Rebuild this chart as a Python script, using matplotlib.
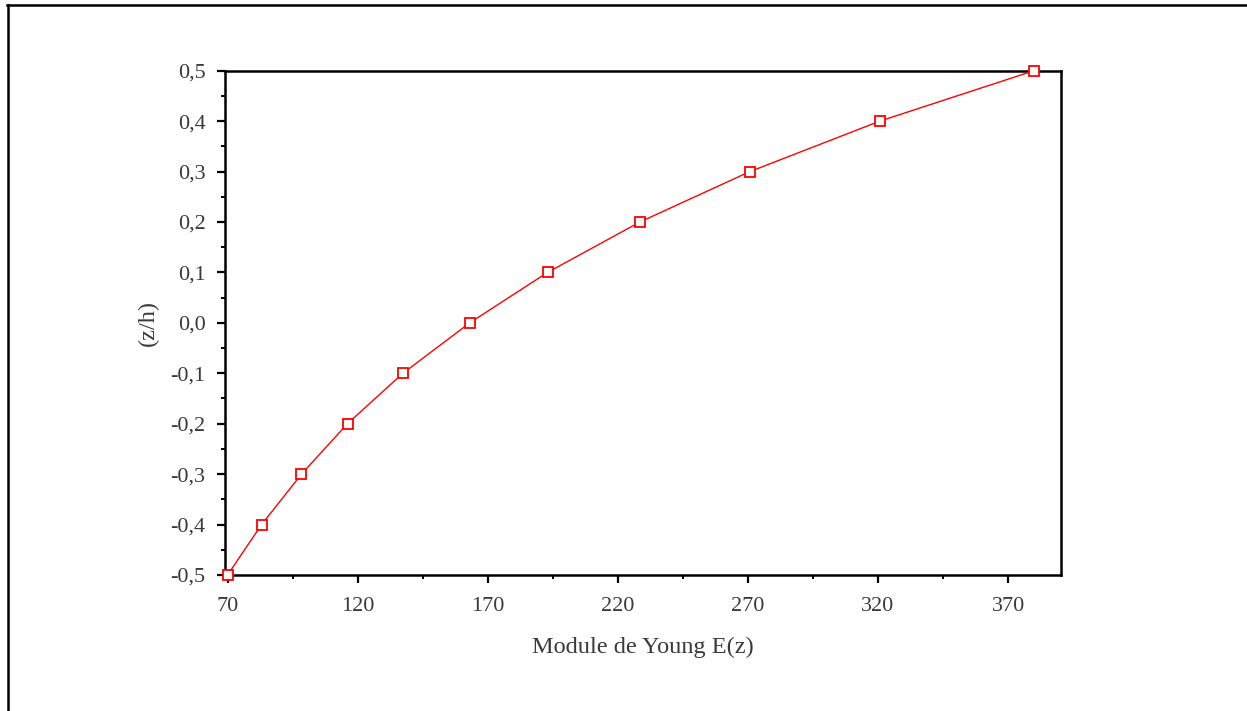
import numpy as np
import matplotlib
matplotlib.use("Agg")
import matplotlib.pyplot as plt
from matplotlib.ticker import MultipleLocator, FixedLocator, FuncFormatter
from matplotlib.lines import Line2D

# Young's modulus E(z) through the thickness
young = [70, 83.1, 98.4, 116.1, 137.4, 163.1, 193.0, 228.5, 270.8, 320.7, 380]
zh = [-0.5, -0.4, -0.3, -0.2, -0.1, 0.0, 0.1, 0.2, 0.3, 0.4, 0.5]
x_ticks = [70, 120, 170, 220, 270, 320, 370]
x_minor = [95, 145, 195, 245, 295, 345]

plt.rcParams['font.family'] = ['Liberation Serif', 'DejaVu Serif']
txt = '#3a3a3a'

fig = plt.figure(figsize=(12.47, 7.11), dpi=100)
ax = fig.add_axes([0.1804, 0.1913, 0.6704, 0.7093])

ax.plot(young, zh, color='red', lw=1.0, marker='s', markersize=7,
        markerfacecolor='white', markeredgecolor='red', markeredgewidth=1.3,
        clip_on=False, zorder=3)

ax.set_xlim(69, 390.3)
ax.set_ylim(-0.5, 0.5)
ax.set_xticks(x_ticks)
ax.xaxis.set_minor_locator(FixedLocator(x_minor))
ax.yaxis.set_major_locator(MultipleLocator(0.1))
ax.yaxis.set_minor_locator(MultipleLocator(0.05))
ax.yaxis.set_major_formatter(FuncFormatter(lambda v, p: ('%.1f' % v).replace('.', ',').replace('-0,0', '0,0')))

for s in ax.spines.values():
    s.set_linewidth(1.8)
ax.tick_params(which='major', direction='out', length=6, width=1.6,
               labelsize=16, labelcolor=txt, pad=8)
ax.tick_params(which='minor', direction='out', length=3, width=1.4)
ax.tick_params(axis='x', which='major', pad=10)

ax.set_xlabel('Module de Young E(z)', fontsize=17.5, color=txt, labelpad=15)
ax.set_ylabel('(z/h)', fontsize=17.5, color=txt, labelpad=8)

# outer frame (top and left edge of the picture)
fig.add_artist(Line2D([0.0056, 1.0], [0.9925, 0.9925], color='black', lw=1.8, transform=fig.transFigure))
fig.add_artist(Line2D([0.0063, 0.0063], [0.0, 0.9925], color='black', lw=1.8, transform=fig.transFigure))

fig.savefig('out.png', dpi=100)
